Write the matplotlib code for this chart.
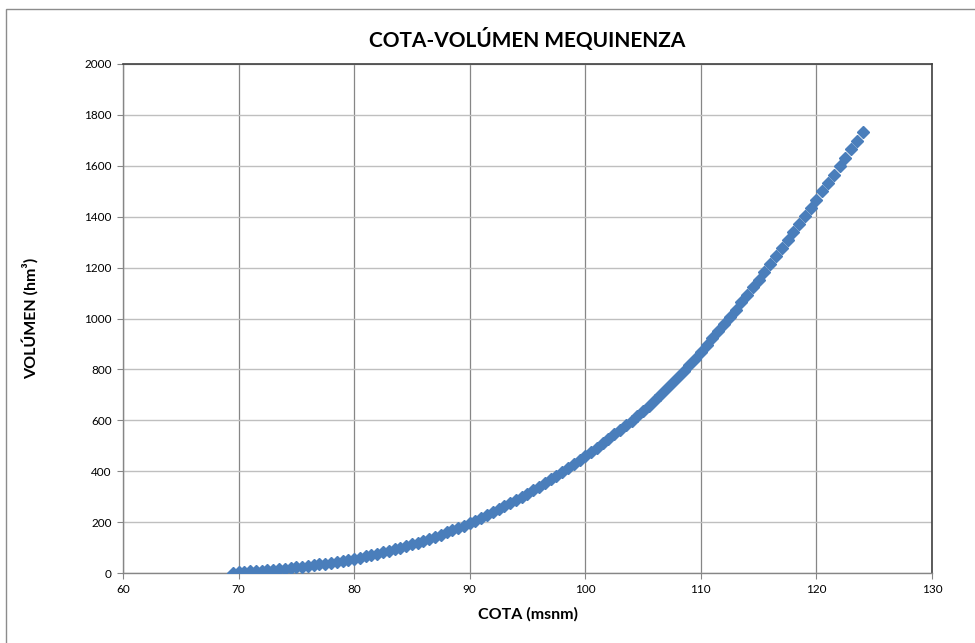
import matplotlib.pyplot as plt
from matplotlib.patches import Rectangle

plt.rcParams['font.family'] = ['Lato', 'DejaVu Sans']

# cota (msnm) y volumen (hm3)
cota = [69.5, 70.0, 70.5, 71.0, 71.5, 72.0, 72.5, 73.0, 73.5, 74.0, 74.5,
        75.0, 75.5, 76.0, 76.5, 77.0, 77.5, 78.0, 78.5, 79.0, 79.5,
        80.0, 80.5, 81.0, 81.5, 82.0, 82.5, 83.0, 83.5, 84.0, 84.5,
        85.0, 85.5, 86.0, 86.5, 87.0, 87.5, 88.0, 88.5, 89.0, 89.5,
        90.0, 90.5, 91.0, 91.5, 92.0, 92.5, 93.0, 93.5, 94.0, 94.5,
        95.0, 95.5, 96.0, 96.5, 97.0, 97.5, 98.0, 98.5, 99.0, 99.5,
        100.0, 100.5, 101.0, 101.5, 102.0, 102.5, 103.0, 103.5, 104.0, 104.5,
        105.0, 105.5, 106.0, 106.5, 107.0, 107.5, 108.0, 108.5, 109.0, 109.5,
        110.0, 110.5, 111.0, 111.5, 112.0, 112.5, 113.0, 113.5, 114.0, 114.5,
        115.0, 115.5, 116.0, 116.5, 117.0, 117.5, 118.0, 118.5, 119.0, 119.5,
        120.0, 120.5, 121.0, 121.5, 122.0, 122.5, 123.0, 123.5, 124.0]

volumen = [0.0, 3.0, 4.5, 6.0, 7.6, 9.3, 11.0, 12.8, 14.7, 16.7, 18.8,
           22.0, 24.8, 27.7, 30.8, 34.0, 37.3, 40.8, 44.4, 48.2, 52.1,
           56.2, 60.7, 65.4, 70.4, 75.6, 81.0, 86.7, 92.7, 99.0, 105.6,
           112.5, 119.8, 127.3, 135.0, 143.0, 151.2, 159.6, 168.2, 177.0, 186.0,
           195.0, 205.5, 216.3, 227.3, 238.6, 250.1, 261.8, 273.7, 285.8, 298.1,
           310.6, 324.6, 338.8, 353.2, 367.8, 382.6, 397.6, 412.8, 428.2, 443.8,
           459.6, 476.2, 493.0, 510.0, 527.3, 544.8, 562.6, 580.7, 599.1, 617.8,
           637.0, 658.0, 679.4, 701.2, 723.4, 746.0, 769.0, 792.4, 816.2, 840.4,
           868.0, 894.5, 921.5, 949.0, 977.0, 1005.4, 1034.2, 1063.4, 1093.0, 1123.0,
           1153.0, 1183.3, 1213.9, 1244.7, 1275.8, 1307.1, 1338.7, 1370.5, 1402.5, 1434.7,
           1467.0, 1499.5, 1532.2, 1565.0, 1598.0, 1631.1, 1664.4, 1697.8, 1731.5]

x_ticks = [60, 70, 80, 90, 100, 110, 120, 130]
y_ticks = [0, 200, 400, 600, 800, 1000, 1200, 1400, 1600, 1800, 2000]

W, H = 975, 643
fig = plt.figure(figsize=(W / 100, H / 100), dpi=100)

# marco exterior del grafico
fig.patches.append(Rectangle((6 / W, -0.1), 1.2, (H - 9) / H + 0.1,
                             transform=fig.transFigure, fill=False,
                             edgecolor='#8c8c8c', linewidth=1.0))

ax = fig.add_axes([123 / W, (H - 573) / H, (932 - 123) / W, (573 - 64) / H])

ax.plot(cota, volumen, linestyle='none', marker='D', markersize=6,
        color='#4a7ebb', markeredgecolor='#4a7ebb', zorder=3)

ax.set_xlim(60, 130)
ax.set_ylim(0, 2000)
ax.set_xticks(x_ticks)
ax.set_yticks(y_ticks)
ax.tick_params(labelsize=8.5, colors='#000000', length=4, width=0.8,
               direction='out', pad=4)
ax.tick_params(axis='both', color='#868686')

ax.xaxis.grid(True, color='#868686', linewidth=0.9)
ax.yaxis.grid(True, color='#bfbfbf', linewidth=1.0)
ax.set_axisbelow(True)

for s in ['left', 'bottom']:
    ax.spines[s].set_color('#868686')
    ax.spines[s].set_linewidth(1.0)
for s in ['top', 'right']:
    ax.spines[s].set_color('#404040')
    ax.spines[s].set_linewidth(1.2)

ax.set_xlabel('COTA (msnm)', fontsize=11.5, fontweight='bold',
              ha='center', va='center')
ax.xaxis.set_label_coords(0.5, (573 - 614) / 509)
ax.set_ylabel('VOLÚMEN (hm³)', fontsize=11.5, fontweight='bold',
              ha='center', va='center')
ax.yaxis.set_label_coords((30 - 123) / 809, 0.5)
fig.text(527 / W, 1 - 40 / H, 'COTA-VOLÚMEN MEQUINENZA', ha='center',
         va='center', fontsize=15, fontweight='bold')

fig.savefig('out.png', dpi=100)
